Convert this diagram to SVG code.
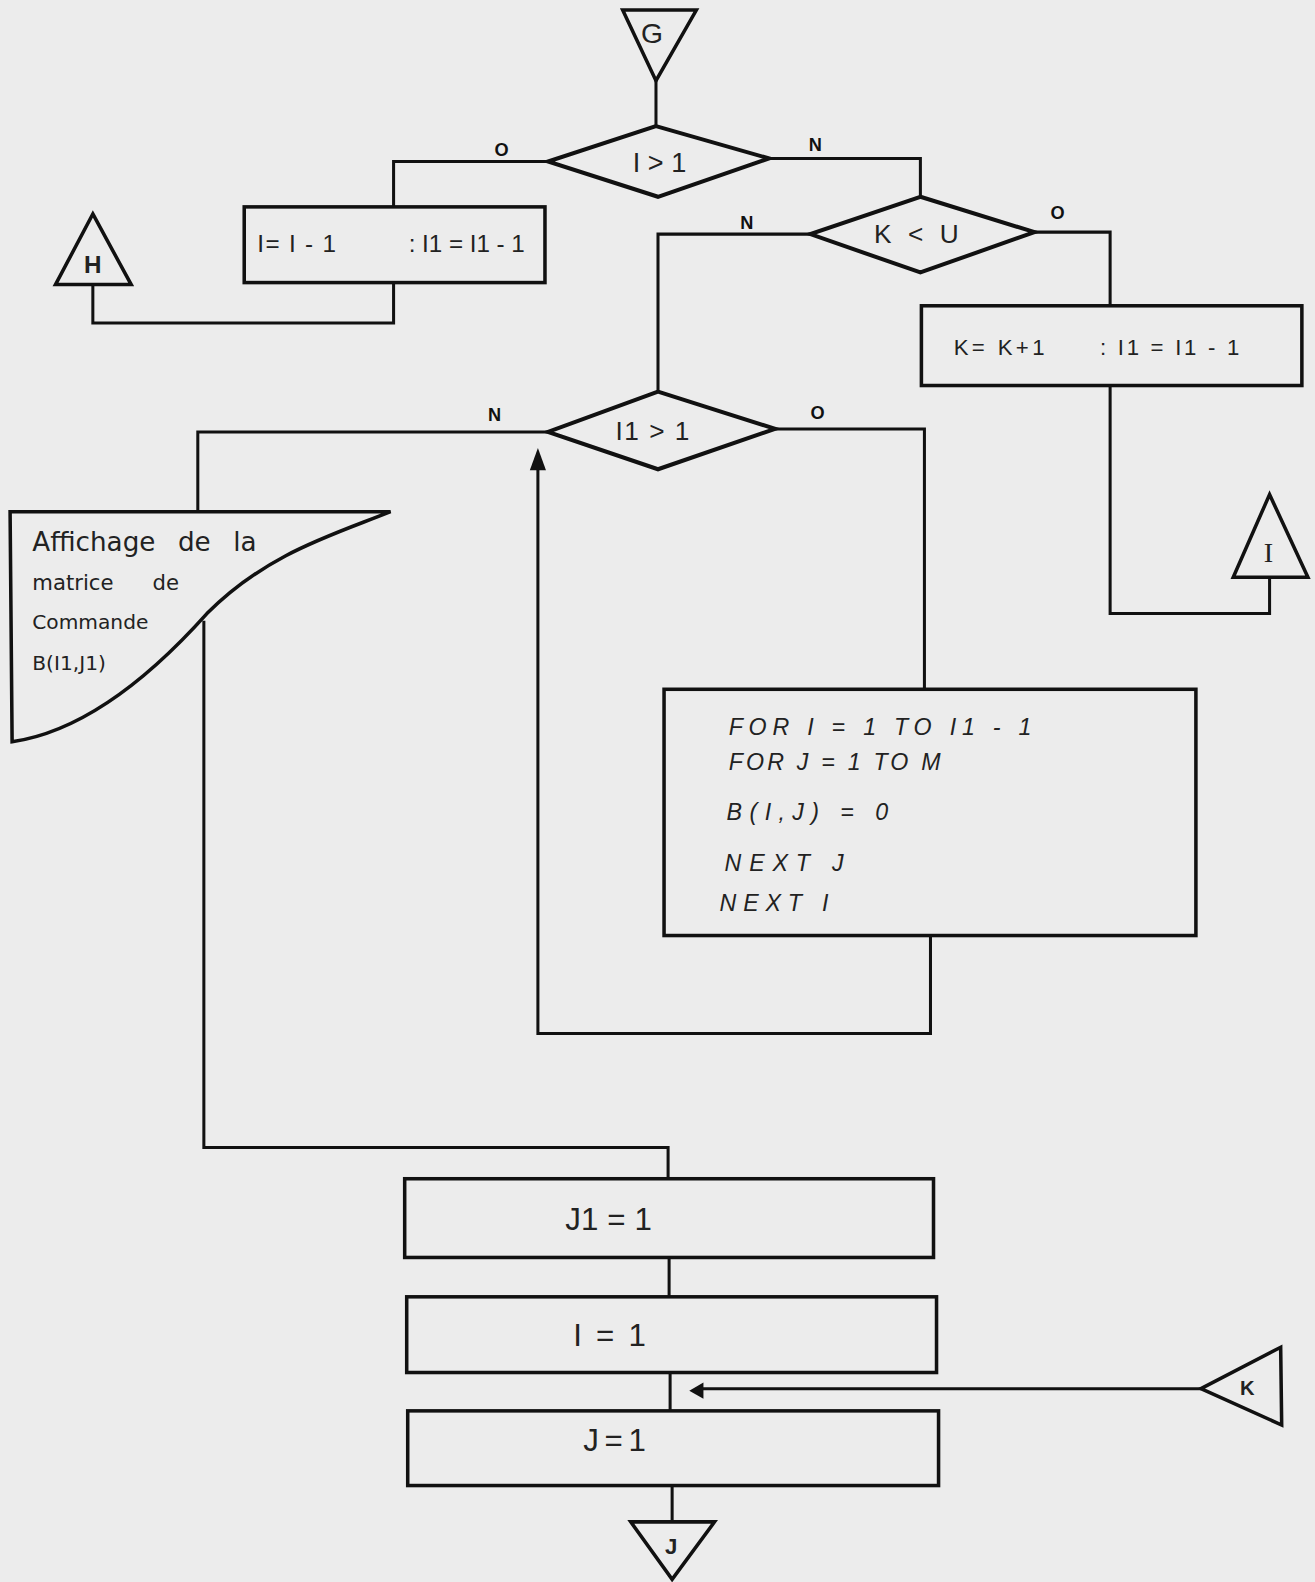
<svg xmlns="http://www.w3.org/2000/svg" width="1315" height="1582" viewBox="0 0 1315 1582">
<defs>
<style>
.bg{fill:#ececec}
.shape{fill:none;stroke:#111;stroke-width:3.5;stroke-linejoin:miter}
.dia{fill:none;stroke:#111;stroke-width:4;stroke-linejoin:miter}
.conn{fill:none;stroke:#111;stroke-width:3}
.t{font-family:"Liberation Sans",Arial,sans-serif;fill:#222}
.lbl{font-family:"Liberation Sans",Arial,sans-serif;font-weight:bold;font-size:18px;fill:#111}
.code{font-family:"Liberation Sans",Arial,sans-serif;font-style:italic;font-size:23px;fill:#222}
.hand{font-family:"DejaVu Sans",sans-serif;fill:#222}
</style>
</defs>
<rect class="bg" x="0" y="0" width="1315" height="1582"/>
<g transform="scale(1.0092)">
<g id="connectors">
<path class="conn" d="M650 80 V125"/>
<path class="conn" d="M543 160 H390 V205"/>
<path class="conn" d="M390 280 V320 H92 V282"/>
<path class="conn" d="M762 157 H912 V195"/>
<path class="conn" d="M803 232 H652 V388"/>
<path class="conn" d="M1025 230 H1100 V303"/>
<path class="conn" d="M1100 382 V608 H1258 V572"/>
<path class="conn" d="M543 428 H196 V507"/>
<path class="conn" d="M202 615 V1137 H662 V1168"/>
<path class="conn" d="M768 425 H916 V683"/>
<path class="conn" d="M922 927 V1024 H533 V462"/>
<polygon points="533,444 525,466 541,466" fill="#111"/>
<path class="conn" d="M663 1247 V1285"/>
<path class="conn" d="M664 1360 V1398"/>
<path class="conn" d="M1190 1376 H695"/>
<polygon points="683,1378 697,1370 697,1386" fill="#111"/>
<path class="conn" d="M666 1472 V1508"/>
</g>
<g id="node-G">
<polygon class="shape" points="617,10 690,10 650,80"/>
<text class="t" x="646" y="43" font-size="28" text-anchor="middle">G</text>
</g>
<g id="node-cond1">
<polygon class="dia" points="650,125 762,157 652,195 543,160"/>
<text class="t" x="627" y="170" font-size="28" textLength="53" lengthAdjust="spacingAndGlyphs">I &gt; 1</text>
<text class="lbl" x="497" y="155" text-anchor="middle">O</text>
<text class="lbl" x="808" y="150" text-anchor="middle">N</text>
</g>
<g id="node-dec1">
<rect class="shape" x="242" y="205" width="298" height="75"/>
<text class="t" x="255" y="250" font-size="24" textLength="78" lengthAdjust="spacing">I= I - 1</text>
<text class="t" x="405" y="250" font-size="24" textLength="115" lengthAdjust="spacing">: I1 = I1 - 1</text>
</g>
<g id="node-H">
<polygon class="shape" points="92,212 130,282 55,282"/>
<text class="t" x="92" y="271" font-size="24" font-weight="bold" text-anchor="middle">H</text>
</g>
<g id="node-cond2">
<polygon class="dia" points="912,195 1025,230 912,270 803,232"/>
<text class="t" x="866" y="241" font-size="26" textLength="84" lengthAdjust="spacing">K &lt; U</text>
<text class="lbl" x="740" y="227" text-anchor="middle">N</text>
<text class="lbl" x="1048" y="217" text-anchor="middle">O</text>
</g>
<g id="node-inc">
<rect class="shape" x="913" y="303" width="377" height="79"/>
<text class="t" x="945" y="352" font-size="22" textLength="90" lengthAdjust="spacing">K= K+1</text>
<text class="t" x="1090" y="352" font-size="22" textLength="138" lengthAdjust="spacing">: I1 = I1 - 1</text>
</g>
<g id="node-I">
<polygon class="shape" points="1258,490 1296,572 1222,572"/>
<text x="1257" y="557" font-family="Liberation Serif, serif" font-size="28" fill="#222" text-anchor="middle">I</text>
</g>
<g id="node-cond3">
<polygon class="dia" points="652,388 768,425 652,465 543,428"/>
<text class="t" x="610" y="436" font-size="26" textLength="73" lengthAdjust="spacing">I1 &gt; 1</text>
<text class="lbl" x="490" y="417" text-anchor="middle">N</text>
<text class="lbl" x="810" y="415" text-anchor="middle">O</text>
</g>
<g id="node-display">
<path class="shape" d="M10 507 H387 C330 530 265 548 205 608 C145 675 80 725 12 735 Z"/>
<text class="hand" x="32" y="546" font-size="26" word-spacing="14">Affichage de la</text>
<text class="hand" x="32" y="585" font-size="21" word-spacing="32">matrice de</text>
<text class="hand" x="32" y="623" font-size="20">Commande</text>
<text class="hand" x="32" y="664" font-size="20">B(I1,J1)</text>
</g>
<g id="node-for">
<rect class="shape" x="658" y="683" width="527" height="244"/>
<text class="code" x="722" y="728" textLength="300" lengthAdjust="spacing">FOR  I = 1  TO  I1 - 1</text>
<text class="code" x="722" y="763" textLength="210" lengthAdjust="spacing">FOR  J = 1  TO  M</text>
<text class="code" x="720" y="813" font-size="27" textLength="160" lengthAdjust="spacing">B(I,J) = 0</text>
<text class="code" x="718" y="863" textLength="118" lengthAdjust="spacing">NEXT J</text>
<text class="code" x="713" y="903" textLength="108" lengthAdjust="spacing">NEXT I</text>
</g>
<g id="node-J1">
<rect class="shape" x="401" y="1168" width="524" height="78"/>
<text class="t" x="560" y="1219" font-size="31" textLength="86" lengthAdjust="spacing">J1 = 1</text>
</g>
<g id="node-I1">
<rect class="shape" x="403" y="1285" width="525" height="75"/>
<text class="t" x="568" y="1334" font-size="31" textLength="72" lengthAdjust="spacing">I = 1</text>
</g>
<g id="node-K">
<polygon class="shape" points="1190,1376 1269,1335 1270,1412"/>
<text class="t" x="1236" y="1382" font-size="20" font-weight="bold" text-anchor="middle">K</text>
</g>
<g id="node-J">
<rect class="shape" x="404" y="1398" width="526" height="74"/>
<text class="t" x="578" y="1438" font-size="31" textLength="62" lengthAdjust="spacing">J = 1</text>
</g>
<g id="node-Jout">
<polygon class="shape" points="625,1508 708,1508 666,1565"/>
<text class="t" x="665" y="1540" font-size="22" font-weight="bold" text-anchor="middle">J</text>
</g>
</g>
</svg>
